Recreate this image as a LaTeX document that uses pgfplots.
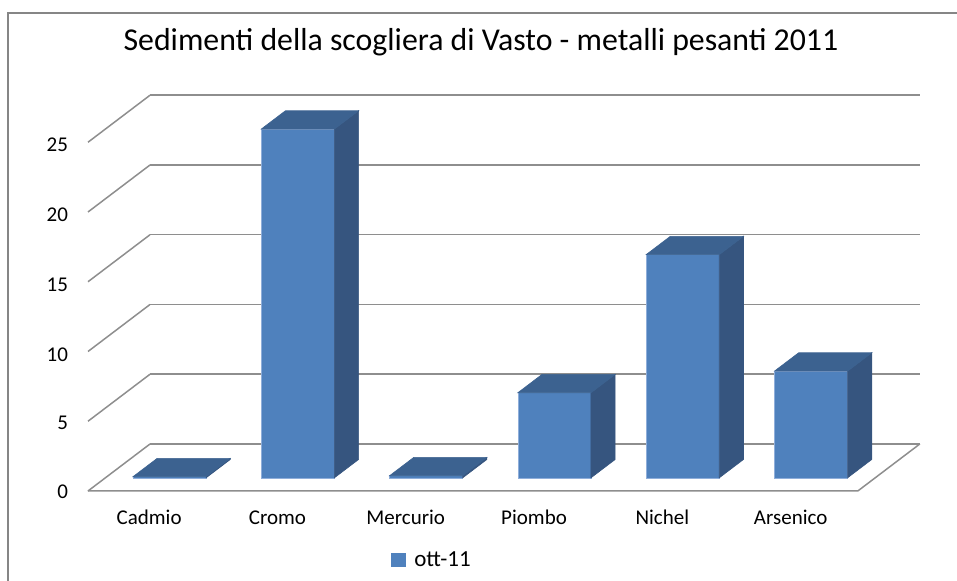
\documentclass[border=0pt]{standalone}
\usepackage{pgfplots}
\pgfplotsset{compat=1.18}
\usepackage{fontspec}
\setmainfont{Carlito}
\usetikzlibrary{calc}

\definecolor{front}{HTML}{4F81BD}
\definecolor{side}{HTML}{36557F}
\definecolor{topc}{HTML}{3C6290}
\definecolor{edgec}{HTML}{8FAEDA}
\definecolor{gridc}{HTML}{8E8E8E}
\definecolor{framec}{HTML}{868686}

% bar half width (category units) and depth range of the bars (0 = front, 1 = back)
\def\bw{0.285}
\def\yf{0.28}
\def\yb{0.67}

% one 3D column: #1 = category position, #2 = value
\newcommand{\cuboid}[2]{%
  \pgfmathsetmacro\xl{#1-\bw}%
  \pgfmathsetmacro\xr{#1+\bw}%
  \addplot3[fill=front, draw=edgec, line width=0.3pt, forget plot]
    coordinates {(\xl,\yf,0) (\xr,\yf,0) (\xr,\yf,#2) (\xl,\yf,#2)} -- cycle;
  \addplot3[fill=side, draw=side, line width=0.3pt, forget plot]
    coordinates {(\xr,\yf,0) (\xr,\yb,0) (\xr,\yb,#2) (\xr,\yf,#2)} -- cycle;
  \addplot3[fill=topc, draw=topc, line width=0.3pt, forget plot]
    coordinates {(\xl,\yf,#2) (\xr,\yf,#2) (\xr,\yb,#2) (\xl,\yb,#2)} -- cycle;
}

\begin{document}
\begin{tikzpicture}
\begin{axis}[
  x={(64.15pt,0pt)}, y={(31pt,23.5pt)}, z={(0pt,6.975pt)},
  xmin=-0.5, xmax=5.5, ymin=0, ymax=1, zmin=0, zmax=25,
  xtick={0,...,5},
  xticklabels={Cadmio,Cromo,Mercurio,Piombo,Nichel,Arsenico},
  ytick=\empty,
  ztick={0,5,...,25},
  zmajorgrids,
  major grid style={gridc, line width=0.75pt},
  axis line style={draw=none},
  major tick length=0pt,
  tick label style={font=\fontsize{10.5}{12}\selectfont, text=black},
  xticklabel style={anchor=base, yshift=-17pt, xshift=-1.5pt},
  zticklabel style={xshift=-6.5pt, yshift=1.5pt},
  /pgf/number format/assume math mode=true,
  legend style={at={(0.4145,-0.175)}, anchor=center, draw=none, fill=none,
    font=\fontsize{11.5}{13}\selectfont,
    /tikz/every odd column/.append style={column sep=2.5pt}},
  clip=false,
]
\addlegendimage{legend image code/.code={\fill[front] (0pt,-3.2pt) rectangle (6.8pt,3.6pt);}}
\addlegendentry{ott-11}

% floor: front and right edges
\draw[gridc, line width=0.75pt] (axis cs:-0.5,0,0) -- (axis cs:5.5,0,0) -- (axis cs:5.5,1,0);

\cuboid{0}{0.08}
\cuboid{1}{25}
\cuboid{2}{0.15}
\cuboid{3}{6.1}
\cuboid{4}{16}
\cuboid{5}{7.65}

\coordinate (F) at (axis cs:-0.5,0,0);
\end{axis}

\node[font=\fontsize{15.9}{19}\selectfont] at ($(F)+(196.5pt,224.5pt)$)
  {Sedimenti della scogliera di Vasto - metalli pesanti 2011};
\draw[framec, line width=1pt] ($(F)+(-40pt,-49.5pt)$) rectangle ($(F)+(436pt,239pt)$);

\pgfresetboundingbox
\path[use as bounding box] ($(F)+(-44pt,-45pt)$) rectangle ($(F)+(434.5pt,245.5pt)$);
\end{tikzpicture}
\end{document}
